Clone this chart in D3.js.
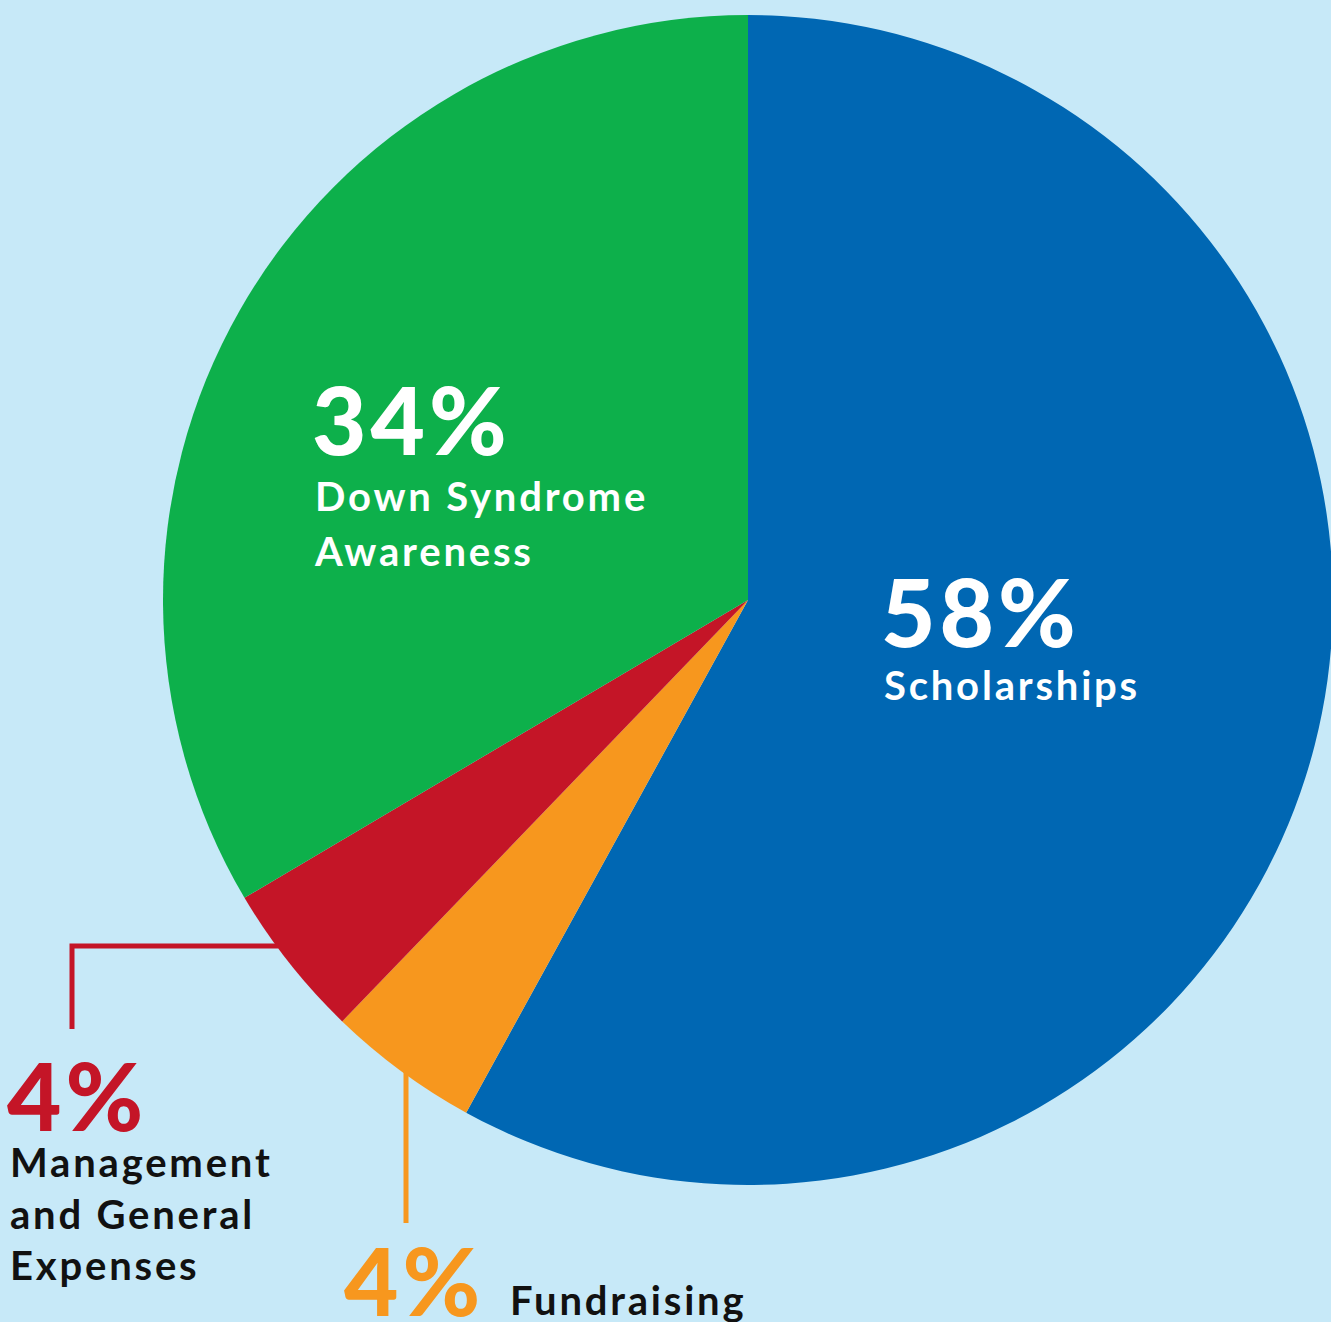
<!DOCTYPE html>
<meta charset="utf-8">
<script src="https://d3js.org/d3.v7.min.js"></script>
<style>
  body { margin: 0; background: #c7e9f8; }
  svg { display: block; }
  text { font-family: Lato, "Open Sans", sans-serif; }
</style>
<svg width="1331" height="1322"></svg>
<script>

    const categories = ["Scholarships", "Fundraising", "Management and General Expenses", "Down Syndrome Awareness"];
    // printed percentages
    const pctLabels = [58, 4, 4, 34];
    // slice shares as drawn in the picture (the printed figures are rounded)
    const shares = [58.0, 4.2, 4.3, 33.5];
    const colors = ["#0067b3", "#f7971e", "#c41527", "#0db04b"];

    const width = 1331,
        height = 1322,
        cx = 748,
        cy = 600,
        radius = 585;

    const data = categories.map((c, i) => ({name: c, value: shares[i], color: colors[i]}))

    const svg = d3.select('svg')
        .attr('width', width)
        .attr('height', height)

    svg.append('rect')
        .attr('width', width)
        .attr('height', height)
        .attr('fill', '#c7e9f8')

    const pie = d3.pie()
        .sort(null)
        .value(d => d.value)

    const arc = d3.arc()
        .innerRadius(0)
        .outerRadius(radius)

    const g = svg.append('g')
        .attr('transform', 'translate(' + cx + ',' + cy + ')')

    g.selectAll('path')
        .data(pie(data))
        .enter().append('path')
        .attr('d', arc)
        .attr('fill', d => d.data.color)

    // x on the rim for a given y (left side) and y on the rim for a given x (bottom)
    const rimX = y => cx - Math.sqrt(radius * radius - (y - cy) * (y - cy))
    const rimY = x => cy + Math.sqrt(radius * radius - (x - cx) * (x - cx))

    // leader lines for the two small slices
    const redY = 946, redX = 72
    svg.append('path')
        .attr('d', 'M' + (rimX(redY) + 2) + ',' + redY + 'H' + redX + 'V1029')
        .attr('fill', 'none')
        .attr('stroke', colors[2])
        .attr('stroke-width', 5)

    const orangeX = 406
    svg.append('path')
        .attr('d', 'M' + orangeX + ',' + (rimY(orangeX) - 3) + 'V1223')
        .attr('fill', 'none')
        .attr('stroke', colors[1])
        .attr('stroke-width', 5)

    function pctText(x, y, pct, color) {
        svg.append('text')
            .attr('x', x)
            .attr('y', y)
            .attr('fill', color)
            .style('font-size', '94px')
            .style('font-weight', 900)
            .style('letter-spacing', '4px')
            .text(pct + '%')
    }

    function nameText(x, y, txt, color) {
        svg.append('text')
            .attr('x', x)
            .attr('y', y)
            .attr('fill', color)
            .style('font-size', '40px')
            .style('font-weight', 700)
            .style('letter-spacing', '2.8px')
            .text(txt)
    }

    function label(x, y, pct, lines, pctColor, textColor, firstGap, lineGap) {
        pctText(x - 3, y, pct, pctColor)
        lines.forEach((l, i) => nameText(x, y + firstGap + i * lineGap, l, textColor))
    }

    label(884, 647, pctLabels[0], ["Scholarships"], "#fff", "#fff", 53, 55)
    label(315, 455, pctLabels[3], ["Down Syndrome", "Awareness"], "#fff", "#fff", 56, 55)
    label(10, 1131, pctLabels[2], ["Management", "and General", "Expenses"], colors[2], "#111", 46, 51.5)

    pctText(344, 1316, pctLabels[1], colors[1])
    nameText(510, 1315, categories[1], "#111")

</script>
